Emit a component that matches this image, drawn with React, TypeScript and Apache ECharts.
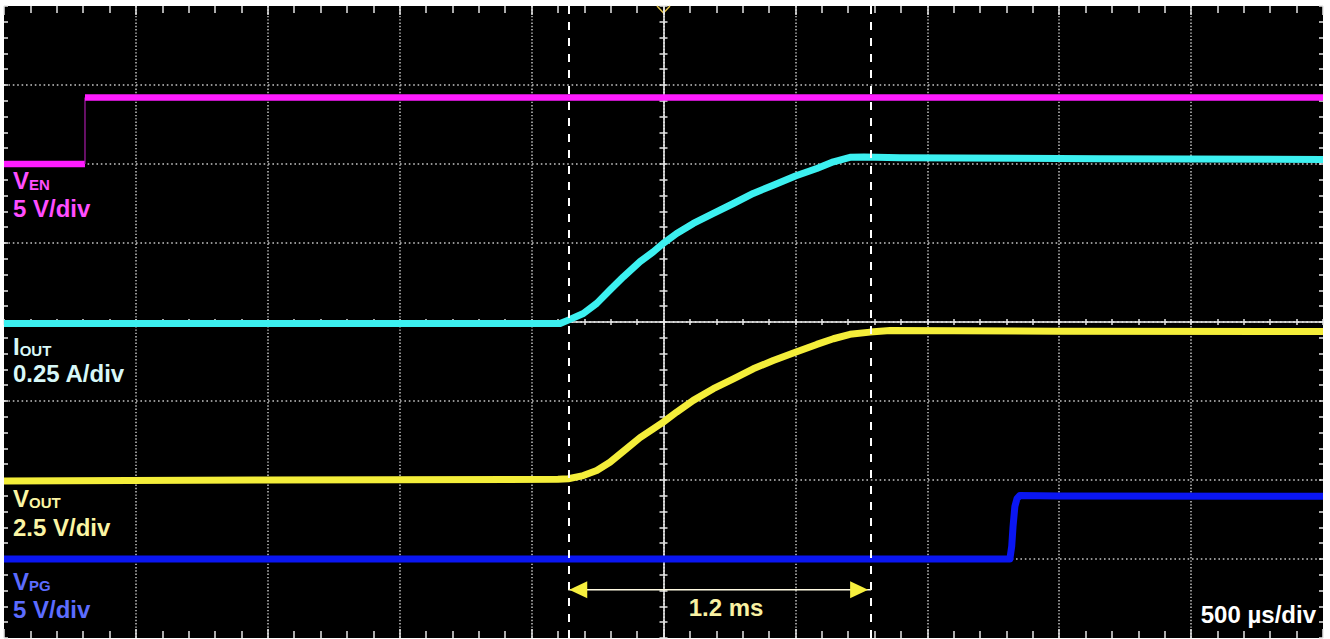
import React, { useEffect, useRef } from 'react';
import * as echarts from 'echarts';

// ---- time base: 500 µs/div, 10 divisions ----
const TIME_MIN = -2500;
const TIME_MAX = 2500;
const TIME_PER_DIV = 500;
const Y_DIVS = 4; // ±4 vertical divisions

// ---- channel settings (units per division, ground offset in divisions) ----
const CHANNELS = ['VEN', 'IOUT', 'VOUT', 'VPG'];
const CH_SCALE = [5, 0.25, 2.5, 5];
const CH_OFFSET = [2.0, -0.02, -2.0, -3.0];

// ---- traces ----
const VEN_TIME = [-2500, -2193, -2193, 2500];
const VEN_VOLT = [0, 0, 4.21, 4.21];

const IOUT_TIME = [-2500, -392, -361, -304, -253, -203, -152, -89, -39, -1, 50, 113, 189, 265, 340, 416, 500, 581, 644, 707, 760, 896, 1655, 2500];
const IOUT_AMP = [0, 0, 0.011, 0.032, 0.064, 0.106, 0.148, 0.196, 0.227, 0.254, 0.285, 0.317, 0.349, 0.38, 0.412, 0.438, 0.467, 0.491, 0.512, 0.526, 0.527, 0.525, 0.522, 0.519];

const VOUT_TIME = [-2500, -1500, -400, -361, -304, -253, -203, -152, -89, -39, -1, 50, 113, 189, 265, 340, 416, 500, 581, 644, 707, 783, 859, 1500, 2500];
const VOUT_VOLT = [-0.03, 0, 0.02, 0.04, 0.14, 0.3, 0.56, 0.91, 1.34, 1.62, 1.83, 2.15, 2.52, 2.89, 3.2, 3.52, 3.78, 4.04, 4.29, 4.47, 4.61, 4.68, 4.73, 4.71, 4.7];

const VPG_TIME = [-2500, 1313, 1320, 1325, 1332, 1340, 1351, 1500, 2500];
const VPG_VOLT = [0, 0, 0.8, 2.06, 3.33, 3.82, 4.02, 3.98, 3.97];

// ---- cursors / annotations ----
const CURSOR_TIME = [-361, 787];
const ARROW_LEVEL = -3.39; // divisions
const DELTA_LABEL = '1.2 ms';
const DELTA_LABEL_TIME = 237;
const DELTA_LABEL_LEVEL = -3.61;
const TIMEBASE_LABEL = '500 µs/div';

const CH_LABEL_MAIN = ['V', 'I', 'V', 'V'];
const CH_LABEL_SUB = ['EN', 'OUT', 'OUT', 'PG'];
const CH_LABEL_SCALE = ['5 V/div', '0.25 A/div', '2.5 V/div', '5 V/div'];

const FONT = '"Liberation Sans", Arial, sans-serif';
const DOT = '#c4c4c4';
const TICK = '#e6e6e6';

const zip = (t: number[], v: number[]) => t.map((x, i) => [x, v[i]]);

function buildOption(): any {
  const xBase = { type: 'value', min: TIME_MIN, max: TIME_MAX, interval: TIME_PER_DIV, axisLabel: { show: false } };
  const yBase = { type: 'value', min: -Y_DIVS, max: Y_DIVS, interval: 1, axisLabel: { show: false } };
  const tickStyle = { color: TICK, width: 1.5 };

  const edge = (base: any, position: string, len: number, minorLen: number) => ({
    ...base,
    position,
    axisLine: { show: false, onZero: false },
    axisTick: { show: true, inside: true, length: len, lineStyle: tickStyle },
    minorTick: { show: true, splitNumber: 5, length: minorLen, lineStyle: tickStyle },
    splitLine: { show: false },
  });
  const center = (base: any, inside: boolean, showLine: boolean, len: number) => ({
    ...base,
    axisLine: { show: showLine, onZero: true, onZeroAxisIndex: 0, lineStyle: { color: '#f2f2f2', width: 1.5 } },
    axisTick: { show: true, inside, length: len, lineStyle: tickStyle },
    minorTick: { show: true, splitNumber: 5, length: len, lineStyle: tickStyle },
    splitLine: { show: false },
  });

  const xAxis = [
    {
      ...edge(xBase, 'bottom', 9, 7),
      splitLine: { show: true, showMinLine: false, showMaxLine: false, lineStyle: { color: DOT, width: 1.5, type: [1.4, 1.9] } },
    },
    edge(xBase, 'top', 9, 7),
    { ...center(xBase, true, true, 3), position: 'bottom' },
    { ...center(xBase, false, false, 3), position: 'bottom' },
  ];

  const yAxis: any[] = [
    {
      ...edge(yBase, 'left', 4, 4),
      splitLine: { show: true, showMinLine: false, showMaxLine: false, lineStyle: { color: DOT, width: 1.5, type: [1.6, 2.8] } },
    },
    edge(yBase, 'right', 4, 4),
    { ...center(yBase, true, true, 4), position: 'left' },
    { ...center(yBase, false, false, 4), position: 'left' },
  ];
  CHANNELS.forEach((name, i) => {
    yAxis.push({
      type: 'value',
      name,
      show: false,
      min: (-Y_DIVS - CH_OFFSET[i]) * CH_SCALE[i],
      max: (Y_DIVS - CH_OFFSET[i]) * CH_SCALE[i],
      axisLine: { onZero: false },
    });
  });

  const trace = (name: string, data: number[][], ch: number, color: string, width: number) => ({
    type: 'line',
    name,
    xAxisIndex: 0,
    yAxisIndex: 4 + ch,
    data,
    symbol: 'none',
    showSymbol: false,
    smooth: false,
    silent: true,
    z: 3,
    lineStyle: { color, width, cap: 'butt', join: 'round' },
  });

  const venData = zip(VEN_TIME, VEN_VOLT);
  const MAGENTA = '#ff1cff';

  const series: any[] = [
    trace('VEN low', venData.slice(0, 2), 0, MAGENTA, 6.5),
    trace('VEN edge', venData.slice(1, 3), 0, '#a81aa8', 1.2),
    trace('VEN high', venData.slice(2, 4), 0, MAGENTA, 6.5),
    trace('IOUT', zip(IOUT_TIME, IOUT_AMP), 1, '#3cf0f0', 7),
    trace('VOUT', zip(VOUT_TIME, VOUT_VOLT), 2, '#f4ee3a', 7),
    trace('VPG', zip(VPG_TIME, VPG_VOLT), 3, '#0a16f2', 7),
    {
      type: 'line',
      name: 'cursors',
      xAxisIndex: 0,
      yAxisIndex: 0,
      silent: true,
      z: 5,
      symbol: 'triangle',
      symbolSize: [17, 18],
      showSymbol: true,
      showAllSymbol: true,
      itemStyle: { color: '#f6ef3e' },
      lineStyle: { color: '#fffbe2', width: 1.5 },
      data: [
        { value: [CURSOR_TIME[0], ARROW_LEVEL], symbolRotate: 90, symbolOffset: [10, 0] },
        { value: [CURSOR_TIME[1], ARROW_LEVEL], symbolRotate: -90, symbolOffset: [-12, 0] },
      ],
      markLine: {
        silent: true,
        symbol: 'none',
        animation: false,
        label: { show: false },
        lineStyle: { color: '#ffffff', width: 2, type: [8, 8] },
        data: CURSOR_TIME.map((t) => ({ xAxis: t })),
      },
      markPoint: {
        silent: true,
        animation: false,
        data: [
          {
            coord: [DELTA_LABEL_TIME, DELTA_LABEL_LEVEL],
            symbol: 'circle',
            symbolSize: 0,
            label: {
              show: true,
              position: 'inside',
              formatter: DELTA_LABEL,
              color: '#f8f1a2',
              fontSize: 24,
              fontWeight: 'bold',
              fontFamily: FONT,
            },
          },
        ],
      },
    },
  ];

  const LABEL_COLORS = ['#ff4eff', '#d8f8f8', '#fbf5a4', '#5c6cff'];
  const LABEL_BASELINES = [187, 353, 505, 588];
  const SCALE_BASELINES = [216, 381, 535, 617];

  const graphics: any[] = [];
  CHANNELS.forEach((_, i) => {
    graphics.push({
      type: 'text',
      x: 13,
      y: LABEL_BASELINES[i] + 5,
      silent: true,
      style: {
        text: `{a|${CH_LABEL_MAIN[i]}}{b|${CH_LABEL_SUB[i]}}`,
        verticalAlign: 'bottom',
        align: 'left',
        rich: {
          a: { fontSize: 24, fontWeight: 'bold', fontFamily: FONT, fill: LABEL_COLORS[i], lineHeight: 27, verticalAlign: 'bottom' },
          b: { fontSize: 15, fontWeight: 'bold', fontFamily: FONT, fill: LABEL_COLORS[i], lineHeight: 20.5, verticalAlign: 'bottom' },
        },
      },
    });
    graphics.push({
      type: 'text',
      x: 13,
      y: SCALE_BASELINES[i] - 8,
      silent: true,
      style: {
        text: CH_LABEL_SCALE[i],
        fill: LABEL_COLORS[i],
        fontSize: 24,
        fontWeight: 'bold',
        fontFamily: FONT,
        verticalAlign: 'middle',
        align: 'left',
      },
    });
  });
  graphics.push({
    type: 'text',
    x: 1316,
    y: 614,
    silent: true,
    style: {
      text: TIMEBASE_LABEL,
      fill: '#ffffff',
      fontSize: 24,
      fontWeight: 'bold',
      fontFamily: FONT,
      verticalAlign: 'middle',
      align: 'right',
    },
  });
  graphics.push({
    type: 'polyline',
    silent: true,
    shape: { points: [[657, 6], [663.5, 13], [670, 6]] },
    style: { stroke: '#e6c64c', lineWidth: 1.5, fill: 'none' },
  });

  return {
    animation: false,
    backgroundColor: '#ffffff',
    grid: { left: 4, top: 6, width: 1319, height: 632, show: true, backgroundColor: '#000000', borderWidth: 0 },
    xAxis,
    yAxis,
    series,
    graphic: graphics,
  };
}

export default function App() {
  const ref = useRef<HTMLDivElement>(null);
  useEffect(() => {
    const chart = echarts.init(ref.current as HTMLDivElement, undefined, { renderer: 'svg' });
    chart.setOption(buildOption());
    return () => chart.dispose();
  }, []);
  return (
    <div style={{ position: 'fixed', left: 0, top: 0, width: 1330, height: 639, background: '#ffffff' }}>
      <div ref={ref} style={{ width: 1330, height: 639 }} />
    </div>
  );
}
